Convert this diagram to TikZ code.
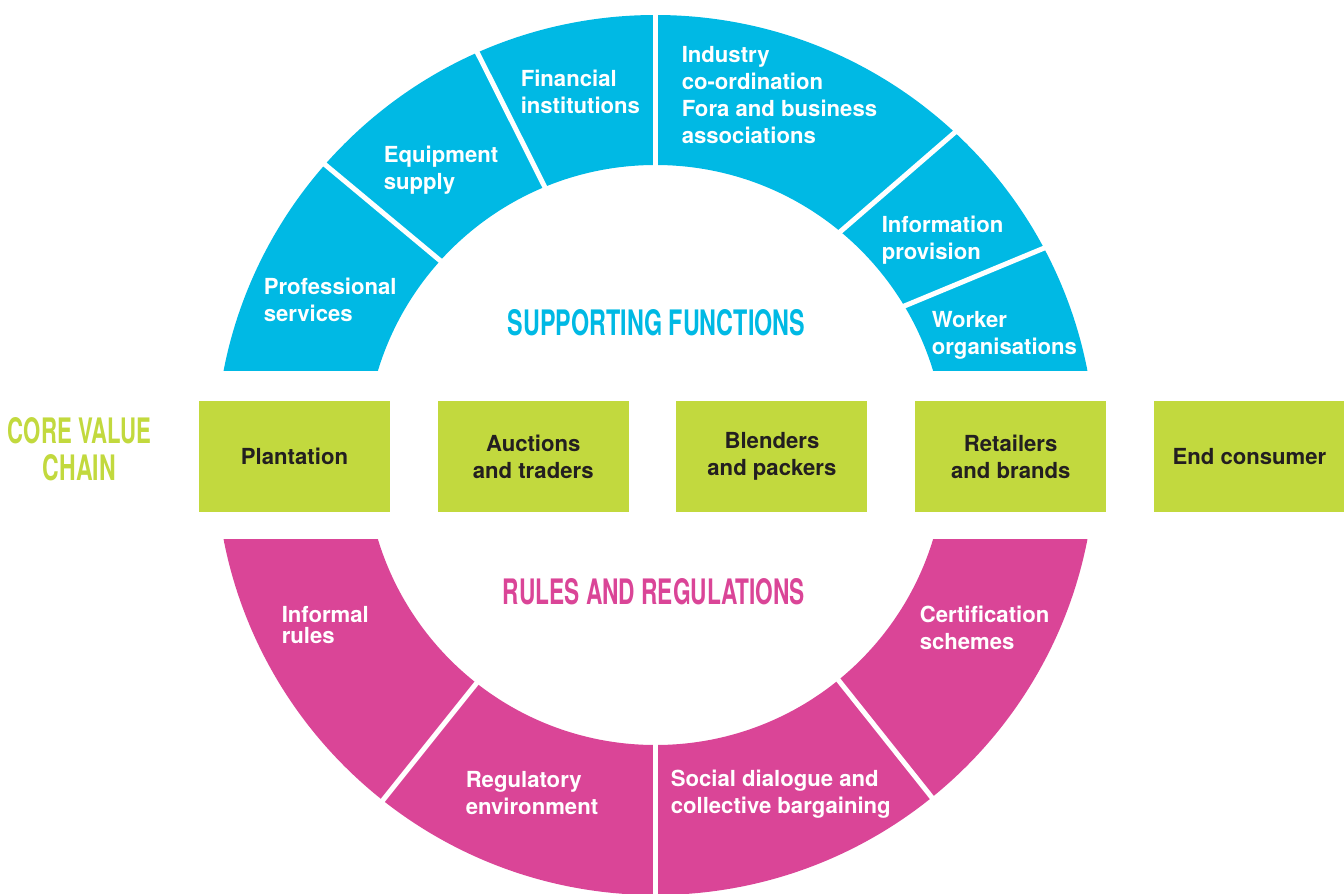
\documentclass[tikz,border=0pt]{standalone}
\usepackage{fontspec}
\usepackage{graphicx}
\setmainfont{TeX Gyre Heros}
\usetikzlibrary{positioning}

\definecolor{supportblue}{RGB}{0,185,228}
\definecolor{rulespink}{RGB}{218,69,151}
\definecolor{chaingreen}{RGB}{194,217,62}
\definecolor{chaintext}{RGB}{35,31,32}

% condensed display lettering
\newcommand{\headline}[3]{\resizebox{#1}{#2}{\bfseries #3}}

\begin{document}
\begin{tikzpicture}[x=0.75pt,y=0.75pt,
    seglabel/.style={anchor=base west,align=left,text=white,inner sep=0pt,
        font=\fontsize{16.6}{20.25}\selectfont\bfseries},
    chainbox/.style={fill=chaingreen,text=chaintext,align=center,inner sep=0pt,
        minimum width=143.25pt,minimum height=83.25pt,
        font=\fontsize{16.6}{20.25}\selectfont\bfseries},
    divider/.style={white,line width=3.75pt}]
    \useasboundingbox (-655.5,-438) rectangle (688.5,455);

    % Supporting functions (upper half of the ring)
    \begin{scope}
        \clip (-700,85) rectangle (700,460);
        \fill[supportblue,even odd rule] (0,0) circle (440) (0,0) circle (290);
    \end{scope}
    \draw[divider] (138.7:443) -- (137.9:287);
    \draw[divider] (113.9:443) -- (112.4:287);
    \draw[divider] (90:443) -- (90:287);
    \draw[divider] (47.1:443) -- (50.5:287);
    \draw[divider] (28.0:443) -- (31.0:287);

    % Rules and regulations (lower half of the ring)
    \begin{scope}
        \clip (-700,-440) rectangle (700,-84);
        \fill[rulespink,even odd rule] (0,0) circle (440) (0,0) circle (290);
    \end{scope}
    \draw[divider] (231.7:443) -- (231.9:287);
    \draw[divider] (270:443) -- (270:287);
    \draw[divider] (308.9:443) -- (309.1:287);

    % Segment labels (placed at the baseline of the last line)
    \node[seglabel] (professional) at (-392,134) {Professional\\services};
    \node[seglabel] (equipment) at (-272,266) {Equipment\\supply};
    \node[seglabel] (financial) at (-135,341) {Financial\\institutions};
    \node[seglabel] (industry) at (26,311) {Industry\\co-ordination\\Fora and business\\associations};
    \node[seglabel] (information) at (226,196) {Information\\provision};
    \node[seglabel] (worker) at (276,101) {Worker\\organisations};
    \node[seglabel] (informal) at (-374,-188) {Informal\\[-4.5pt]rules};
    \node[seglabel] (regulatory) at (-190,-359) {Regulatory\\environment};
    \node[seglabel] (social) at (15,-358) {Social dialogue and\\collective bargaining};
    \node[seglabel] (certification) at (264,-194) {Certification\\schemes};

    % Headings
    \node[anchor=base,text=supportblue,inner sep=0pt] (supporting) at (1,120)
        {\headline{222.75pt}{19.5pt}{SUPPORTING FUNCTIONS}};
    \node[anchor=base,text=rulespink,inner sep=0pt] (rules) at (-1.5,-149)
        {\headline{226.5pt}{19.5pt}{RULES AND REGULATIONS}};
    \node[anchor=base,text=chaingreen,inner sep=0pt,align=center,
        font=\fontsize{20}{27.75}\selectfont] (corechain) at (-576,-25)
        {\headline{107.25pt}{19.5pt}{CORE VALUE}\\\headline{54.75pt}{19.5pt}{CHAIN}};

    % Core value chain
    \node[chainbox] (plantation) at (-361,-1.5) {Plantation};
    \node[chainbox,right=35.4pt of plantation] (auctions) {Auctions\\and traders};
    \node[chainbox,right=35.4pt of auctions] (blenders) {Blenders\\and packers};
    \node[chainbox,right=35.4pt of blenders] (retailers) {Retailers\\and brands};
    \node[chainbox,right=35.4pt of retailers] (consumer) {End consumer};
\end{tikzpicture}
\end{document}
